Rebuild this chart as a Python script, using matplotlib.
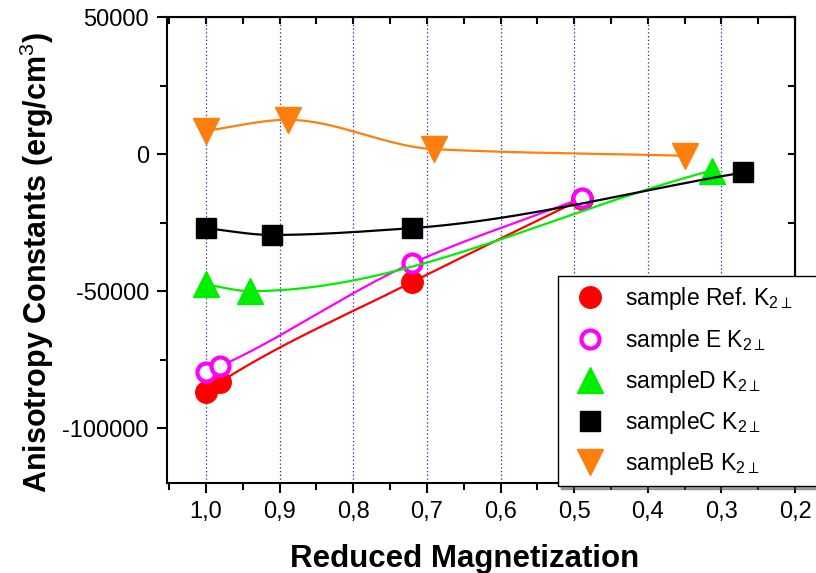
import numpy as np
import matplotlib.pyplot as plt
from matplotlib.ticker import MultipleLocator, FuncFormatter

plt.rcParams['font.family'] = ['Liberation Sans', 'DejaVu Sans']
plt.rcParams['mathtext.fontset'] = 'custom'
plt.rcParams['mathtext.rm'] = 'Liberation Sans'
plt.rcParams['mathtext.it'] = 'Liberation Sans'
plt.rcParams['mathtext.bf'] = 'Liberation Sans:bold'

# data
x_ref = [1.0, 0.981, 0.720, 0.489]
y_ref = [-86900, -83200, -46700, -16300]
x_e = [1.0, 0.981, 0.720, 0.489]
y_e = [-79500, -77400, -39800, -16000]
x_d = [1.0, 0.940, 0.313]
y_d = [-47500, -50000, -6000]
x_c = [1.0, 0.911, 0.720, 0.270]
y_c = [-27000, -29500, -27000, -6700]
x_b = [1.0, 0.889, 0.690, 0.350]
y_b = [8500, 12500, 1800, -600]

labels = [r'sample Ref. K$_{2\perp}$', r'sample E K$_{2\perp}$',
          r'sampleD K$_{2\perp}$', r'sampleC K$_{2\perp}$', r'sampleB K$_{2\perp}$']


def smooth(x, y, n=300):
    # shape preserving cubic for the connecting curve (secant slope at the ends)
    x = np.asarray(x, float)
    y = np.asarray(y, float)
    o = np.argsort(x)
    x, y = x[o], y[o]
    h = np.diff(x)
    dl = np.diff(y) / h
    k = len(x)
    m = np.zeros(k)
    m[0], m[-1] = dl[0], dl[-1]
    for i in range(1, k - 1):
        if dl[i - 1] * dl[i] > 0:
            w1 = 2 * h[i] + h[i - 1]
            w2 = h[i] + 2 * h[i - 1]
            m[i] = (w1 + w2) / (w1 / dl[i - 1] + w2 / dl[i])
    xs = np.linspace(x[0], x[-1], n)
    i = np.clip(np.searchsorted(x, xs) - 1, 0, k - 2)
    t = (xs - x[i]) / h[i]
    h00 = 2 * t ** 3 - 3 * t ** 2 + 1
    h10 = t ** 3 - 2 * t ** 2 + t
    h01 = -2 * t ** 3 + 3 * t ** 2
    h11 = t ** 3 - t ** 2
    ys = h00 * y[i] + h10 * h[i] * m[i] + h01 * y[i + 1] + h11 * h[i] * m[i + 1]
    return xs, ys


fig = plt.figure(figsize=(8.16, 5.73), dpi=100)
ax = fig.add_axes([0.2046, 0.157, 0.7697, 0.8133])

series = [
    (x_ref, y_ref, '#ff0000', dict(marker='o', ms=15.5, mfc='#ff0000', mec='#ff0000')),
    (x_e, y_e, '#ff00ff', dict(marker='o', ms=13, mfc='white', mec='#ff00ff', mew=3)),
    (x_d, y_d, '#00ee00', dict(marker='^', ms=19, mfc='#00ee00', mec='#00ee00')),
    (x_c, y_c, '#000000', dict(marker='s', ms=15, mfc='#000000', mec='#000000')),
    (x_b, y_b, '#ff7f0e', dict(marker='v', ms=19, mfc='#ff7f0e', mec='#ff7f0e')),
]

handles = []
for z, (xv, yv, col, mk) in enumerate(series):
    xs, ys = smooth(xv, yv)
    ax.plot(xs, ys, color=col, lw=1.6, zorder=3 + z)
    h, = ax.plot(xv, yv, ls='none', zorder=3 + z, **mk)
    handles.append(h)

ax.set_xlim(1.053, 0.2)
ax.set_ylim(-120000, 50000)

ax.xaxis.set_major_locator(MultipleLocator(0.1))
ax.xaxis.set_minor_locator(MultipleLocator(0.05))
ax.yaxis.set_major_locator(MultipleLocator(50000))
ax.yaxis.set_minor_locator(MultipleLocator(25000))
ax.xaxis.set_major_formatter(FuncFormatter(lambda v, p: f'{v:.1f}'.replace('.', ',')))
ax.yaxis.set_major_formatter(FuncFormatter(lambda v, p: f'{v:.0f}'))

ax.tick_params(axis='both', which='both', direction='out', width=1.5, labelsize=17, pad=6)
ax.tick_params(axis='both', which='major', length=7)
ax.tick_params(axis='both', which='minor', length=5)

# top and right: ticks pointing inward, no labels
top = ax.secondary_xaxis('top')
top.xaxis.set_major_locator(MultipleLocator(0.05))
top.tick_params(direction='in', length=5, width=1.5, labeltop=False)
right = ax.secondary_yaxis('right')
right.yaxis.set_major_locator(MultipleLocator(25000))
right.tick_params(direction='in', length=5, width=1.5, labelright=False)

for s in ax.spines.values():
    s.set_linewidth(1.5)

ax.grid(axis='x', which='major', color='#2020a0', ls=(0, (1, 2)), lw=0.9)
ax.set_axisbelow(True)

ax.set_xlabel('Reduced Magnetization', fontsize=22.5, fontweight='bold')
ax.xaxis.set_label_coords(0.474, -0.13)
ax.set_ylabel(r'Anisotropy Constants (erg/cm$^\mathrm{3}$)', fontsize=22,
              fontweight='bold')
ax.yaxis.set_label_coords(-0.177, 0.474)

leg = ax.legend(handles, labels, loc='lower left', bbox_to_anchor=(0.684, 0.151, 0.33, 0.371),
                bbox_transform=fig.transFigure, mode='expand', fontsize=16.5,
                frameon=True, fancybox=False, shadow=True, borderpad=0.4, borderaxespad=0,
                labelspacing=0.62, handletextpad=0.5, handlelength=2.0, numpoints=1)
leg.get_frame().set_edgecolor('black')
leg.get_frame().set_linewidth(1.0)
leg.set_zorder(20)

fig.savefig('out.png', dpi=100)
